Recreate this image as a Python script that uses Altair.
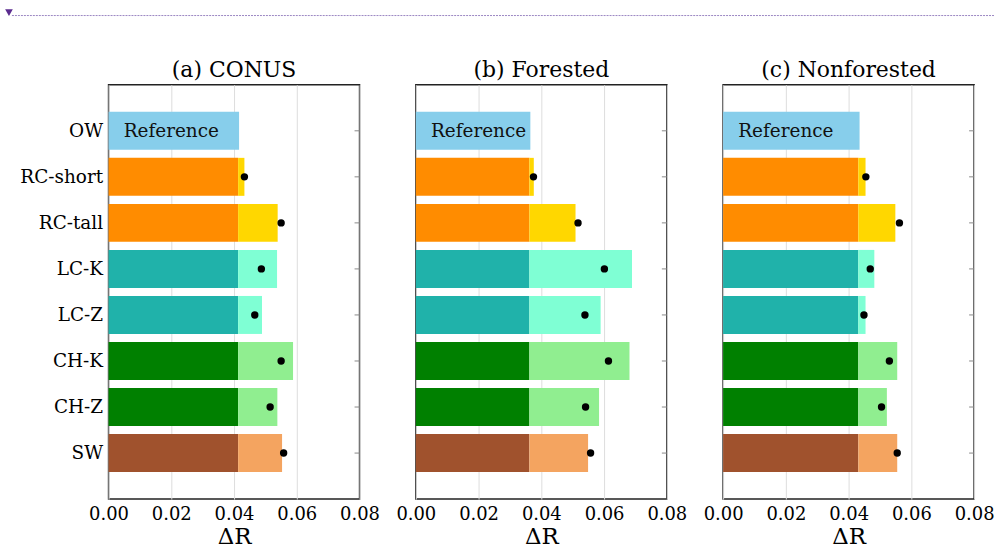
import altair as alt
import pandas as pd

# ---------------- data ----------------
models = ["OW", "RC-short", "RC-tall", "LC-K", "LC-Z", "CH-K", "CH-Z", "SW"]
panel_titles = ["(a) CONUS", "(b) Forested", "(c) Nonforested"]

# OW (reference) bar length and the common base for the model bars
ref_value = [0.0416, 0.0365, 0.0435]
base_value = [0.0413, 0.0362, 0.0431]

# model bar ends (RC-short ... SW)
bar_conus = [0.0433, 0.0539, 0.0537, 0.0489, 0.0588, 0.0538, 0.0553]
bar_forested = [0.0376, 0.0509, 0.0689, 0.0589, 0.0681, 0.0584, 0.0549]
bar_nonforested = [0.0454, 0.0549, 0.0482, 0.0454, 0.0555, 0.0522, 0.0555]

# black dots (RC-short ... SW)
dot_conus = [0.0433, 0.0550, 0.0487, 0.0466, 0.0550, 0.0515, 0.0558]
dot_forested = [0.0375, 0.0517, 0.0601, 0.0539, 0.0614, 0.0541, 0.0557]
dot_nonforested = [0.0455, 0.0562, 0.0469, 0.0449, 0.0530, 0.0505, 0.0555]

bars_all = [bar_conus, bar_forested, bar_nonforested]
dots_all = [dot_conus, dot_forested, dot_nonforested]

ref_color = "#87CEEB"
dark_colors = ["#FF8C00", "#FF8C00", "#20B2AA", "#20B2AA", "#008000", "#008000", "#A0522D"]
light_colors = ["#FFD700", "#FFD700", "#7FFFD4", "#7FFFD4", "#90EE90", "#90EE90", "#F4A460"]

ref_label = "Reference"
ref_label_x = 0.02

x_ticks = [0.0, 0.02, 0.04, 0.06, 0.08]

# ---------------- chart ----------------
FONT = "DejaVu Serif"
W, H = 252, 416

yscale = alt.Scale(domain=models, paddingInner=0.175, paddingOuter=0.5875)
xscale = alt.Scale(domain=[0, 0.08], nice=False, zero=True)


def panel(i):
    rows = [dict(model="OW", x0=0.0, x1=ref_value[i], color=ref_color)]
    for j, m in enumerate(models[1:]):
        rows.append(dict(model=m, x0=0.0, x1=base_value[i], color=dark_colors[j]))
        rows.append(dict(model=m, x0=base_value[i], x1=bars_all[i][j], color=light_colors[j]))
    bdf = pd.DataFrame(rows)
    ddf = pd.DataFrame({"model": models[1:], "value": dots_all[i]})
    tdf = pd.DataFrame({"model": ["OW"], "x": [ref_label_x], "label": [ref_label]})
    kdf = pd.DataFrame({"model": models})

    if i == 0:
        yaxis = alt.Axis(title=None, ticks=False, domain=False, grid=False,
                         labelFont=FONT, labelFontSize=18.5, labelColor="black",
                         labelPadding=6)
    else:
        yaxis = None

    xaxis = alt.Axis(title="ΔR", values=x_ticks, format=".2f", ticks=False,
                     domain=False, grid=True, gridColor="#dddddd", gridWidth=1,
                     labelFont=FONT, labelFontSize=18, labelColor="black",
                     labelFlush=False, labelPadding=6, labelOverlap=False,
                     titleFont=FONT, titleFontSize=23, titleFontWeight="normal",
                     titleColor="black", titlePadding=3)

    bars = alt.Chart(bdf).mark_bar(cornerRadius=0).encode(
        x=alt.X("x0:Q", scale=xscale, axis=xaxis),
        x2="x1:Q",
        y=alt.Y("model:N", scale=yscale, axis=yaxis),
        color=alt.Color("color:N", scale=None),
    )
    dots = alt.Chart(ddf).mark_circle(size=55, color="black", opacity=1).encode(
        x=alt.X("value:Q", scale=xscale),
        y=alt.Y("model:N", scale=yscale),
    )
    text = alt.Chart(tdf).mark_text(font=FONT, fontSize=18.5, color="#111111",
                                    align="center", baseline="middle").encode(
        x=alt.X("x:Q", scale=xscale),
        y=alt.Y("model:N", scale=yscale),
        text="label:N",
    )
    rticks = alt.Chart(kdf).mark_rule(color="#888888", strokeWidth=1).encode(
        y=alt.Y("model:N", scale=yscale),
        x=alt.value(W - 5),
        x2=alt.value(W),
    )
    layers = [bars, dots, text, rticks]
    title_offset = 3
    if i == 0:
        deco = pd.DataFrame({"k": [0]})
        line = alt.Chart(deco).mark_rule(color="#9a86c2", strokeWidth=1,
                                         strokeDash=[2, 1]).encode(
            x=alt.value(-97), x2=alt.value(890), y=alt.value(-69.5))
        tri = alt.Chart(deco).mark_point(shape="triangle-down", filled=True,
                                         size=60, color="#5b2c8f", opacity=1).encode(
            x=alt.value(-100), y=alt.value(-72.5))
        layers += [line, tri]
        title_offset = -73
    return alt.layer(*layers).properties(
        width=W, height=H,
        title=alt.TitleParams(panel_titles[i], font=FONT, fontSize=22,
                              fontWeight="normal", color="black",
                              offset=title_offset),
    )


chart = alt.hconcat(panel(0), panel(1), panel(2), spacing=56.5, bounds="flush").properties(
    padding={"left": 4, "top": 7, "right": 0, "bottom": 0},
    background="white",
).configure_view(stroke="#222222", strokeWidth=1.5)

chart.save("out.html", embed_options={"renderer": "svg", "actions": False})
